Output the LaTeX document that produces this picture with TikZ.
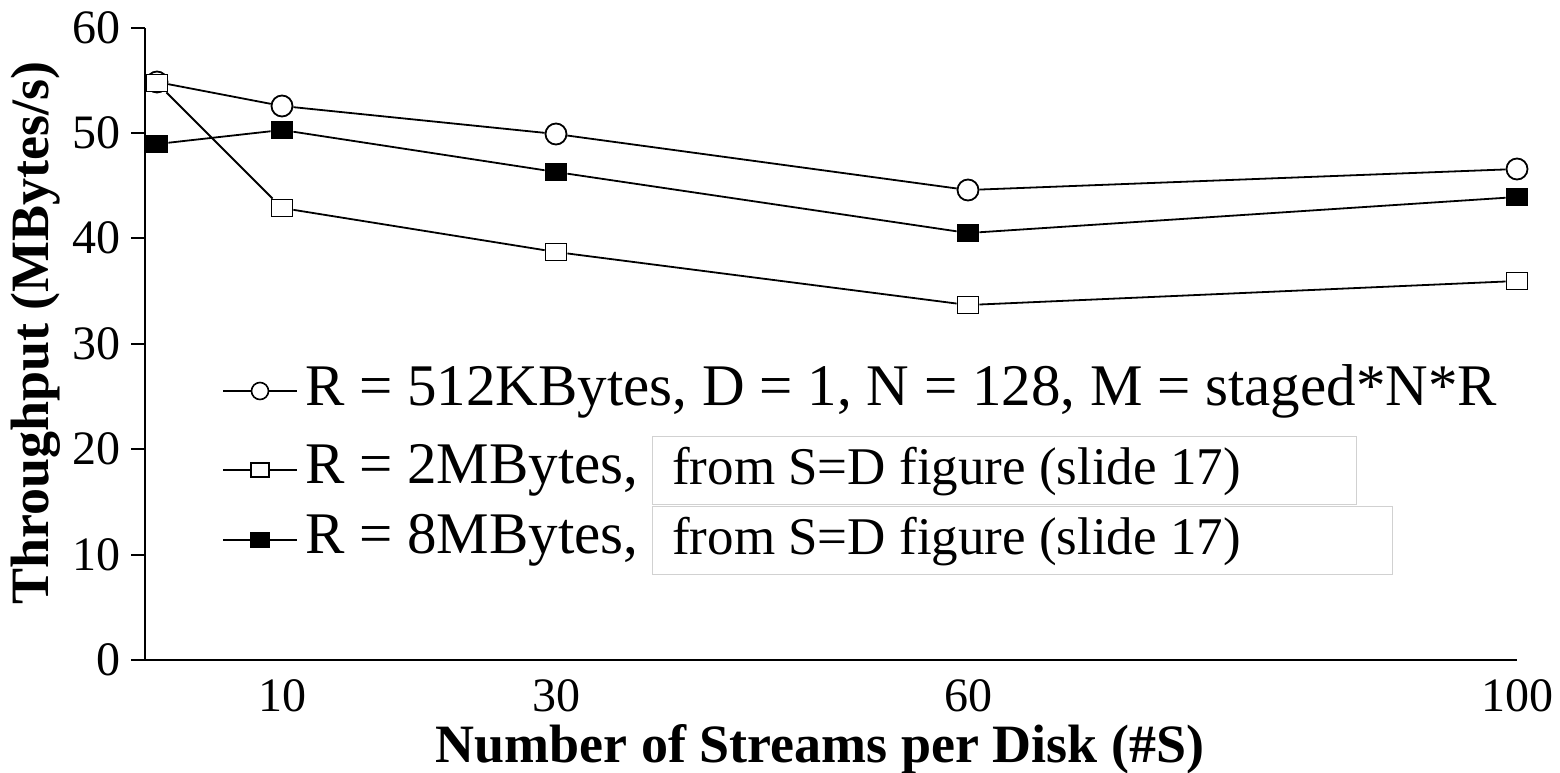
\documentclass[tikz,border=0pt]{standalone}
\usepackage{fontspec}
\setmainfont{Liberation Serif}
\begin{document}
\begin{tikzpicture}[x=1pt,y=-1pt,
  ax/.style={line width=2pt},
  ser/.style={line width=1.8pt},
  circ/.style={circle,draw,line width=1.8pt,fill=white,minimum size=21pt,inner sep=0pt},
  osq/.style={rectangle,draw,line width=1.8pt,fill=white,minimum width=21pt,minimum height=17pt,inner sep=0pt},
  fsq/.style={rectangle,draw,line width=1.8pt,fill=black,minimum width=21pt,minimum height=17pt,inner sep=0pt},
  lcirc/.style={circle,draw,line width=1.6pt,fill=white,minimum size=17pt,inner sep=0pt},
  losq/.style={rectangle,draw,line width=1.6pt,fill=white,minimum width=18pt,minimum height=14pt,inner sep=0pt},
  lfsq/.style={rectangle,draw,line width=1.6pt,fill=black,minimum width=18pt,minimum height=14pt,inner sep=0pt},
  ytl/.style={anchor=east,inner sep=0pt,font=\fontsize{48}{52}\selectfont},
  xtl/.style={anchor=center,inner sep=0pt,font=\fontsize{48}{52}\selectfont},
  ttl/.style={inner sep=0pt,font=\fontsize{54}{58}\selectfont\bfseries},
  leg/.style={anchor=west,inner sep=0pt,font=\fontsize{59}{62}\selectfont},
  fbox/.style={draw=black!18,line width=1.2pt,anchor=north west,minimum height=68pt,inner sep=0pt},
  ftxt/.style={anchor=west,inner sep=0pt,font=\fontsize{53}{56}\selectfont}]
\useasboundingbox (0,0) rectangle (1560,772);
% axes
\coordinate (o) at (145,660);
\coordinate (ytop) at (145,28);
\coordinate (xend) at (1517,660);
\draw[ax] (ytop) -- (o) -- (xend);
\foreach \y/\v in {28/60,133/50,238/40,344/30,449/20,555/10,660/0}{
  \coordinate (yt\v) at (131,\y);
  \draw[ax] (yt\v) -- (145,\y);
  \node[ytl] (ytl\v) at (121,\y) {\v};
}
\foreach \x/\v in {282/10,556/30,968/60,1517/100}{
  \node[xtl] (xtl\v) at (\x,696) {\v};
}
\node[ttl,anchor=base] (xtitle) at (820,762) {Number of Streams per Disk (\#S)};
\node[ttl,rotate=90] (ytitle) at (36,333) {Throughput (MBytes/s)};
% boxes
\node[fbox,minimum width=704pt] (box1) at (652,436) {};
\node[fbox,minimum width=740pt] (box2) at (652,506) {};
\node[ftxt] (f1) at (672,472) {from S=D figure (slide 17)};
\node[ftxt] (f2) at (672,542) {from S=D figure (slide 17)};
% series: open squares
\node[osq] (s1) at (157,83) {};
\node[osq] (s2) at (282,208) {};
\node[osq] (s3) at (556,252) {};
\node[osq] (s4) at (968,305) {};
\node[osq] (s5) at (1517,281) {};
% filled squares
\node[fsq] (b1) at (157,144) {};
\node[fsq] (b2) at (282,130) {};
\node[fsq] (b3) at (556,172) {};
\node[fsq] (b4) at (968,233) {};
\node[fsq] (b5) at (1517,197) {};
% circles
\node[circ] (c1) at (157,82) {};
\node[circ] (c2) at (282,106) {};
\node[circ] (c3) at (556,134) {};
\node[circ] (c4) at (968,190) {};
\node[circ] (c5) at (1517,169) {};
\node[osq] (s1b) at (157,83) {};
\draw[ser] (c1) -- (c2) -- (c3) -- (c4) -- (c5);
\draw[ser] (s1b) -- (s2) -- (s3) -- (s4) -- (s5);
\draw[ser] (b1) -- (b2) -- (b3) -- (b4) -- (b5);
% legend
\coordinate (l1a) at (223,391); \coordinate (l1b) at (297,391);
\coordinate (l2a) at (223,470); \coordinate (l2b) at (297,470);
\coordinate (l3a) at (223,540); \coordinate (l3b) at (297,540);
\draw[ser] (l1a) -- (l1b);
\draw[ser] (l2a) -- (l2b);
\draw[ser] (l3a) -- (l3b);
\node[lcirc] (lm1) at (260,391) {};
\node[losq] (lm2) at (260,470) {};
\node[lfsq] (lm3) at (260,540) {};
\node[leg] (lt1) at (305,391) {R = 512KBytes, D = 1, N = 128, M = staged*N*R};
\node[leg] (lt2) at (305,470) {R = 2MBytes,};
\node[leg] (lt3) at (305,540) {R = 8MBytes,};
\end{tikzpicture}
\end{document}
